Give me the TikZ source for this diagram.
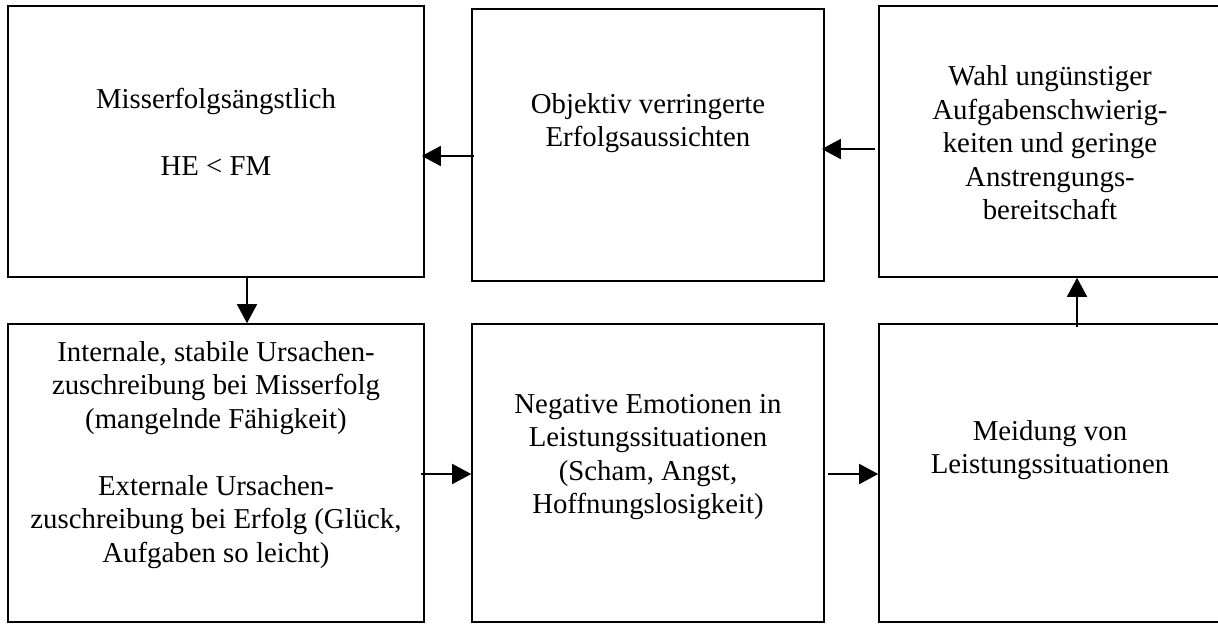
\documentclass[tikz,border=0pt]{standalone}
\usepackage{fontspec}
\setmainfont{Liberation Serif}
\usetikzlibrary{arrows.meta}
\begin{document}
\begin{tikzpicture}[x=1pt,y=-1pt,
  box/.style={draw=black,line width=1.6pt,rectangle,inner sep=0pt},
  txt/.style={align=center,inner sep=0pt,font=\fontsize{28.8}{33.5}\selectfont},
  arr/.style={line width=1.6pt,-{Triangle[length=19pt,width=20pt]}}]
\fill[white] (0,0) rectangle (1218,624);
\useasboundingbox (0,0) rectangle (1218,624);
% boxes
\node[box,minimum width=416pt,minimum height=271pt] (tl) at (216,141.5) {};
\node[box,minimum width=352pt,minimum height=272pt] (tm) at (648,145) {};
\node[box,minimum width=343pt,minimum height=271pt] (tr) at (1050.5,141.5) {};
\node[box,minimum width=416pt,minimum height=298pt] (bl) at (216,473) {};
\node[box,minimum width=352pt,minimum height=298pt] (bm) at (648,473) {};
\node[box,minimum width=343pt,minimum height=298pt] (br) at (1050.5,473) {};
% texts
\node[txt] (ttl) at (216,132) {Misserfolgsängstlich\\[33.5pt]HE < FM};
\node[txt] (ttm) at (648,123) {Objektiv verringerte\\Erfolgsaussichten};
\node[txt] (ttr) at (1050,143) {Wahl ungünstiger\\Aufgabenschwierig-\\keiten und geringe\\Anstrengungs-\\bereitschaft};
\node[txt] (tbl) at (216,455) {Internale, stabile Ursachen-\\zuschreibung bei Misserfolg\\(mangelnde Fähigkeit)\\[33.5pt]Externale Ursachen-\\zuschreibung bei Erfolg (Glück,\\Aufgaben so leicht)};
\node[txt] (tbm) at (648,457) {Negative Emotionen in\\Leistungssituationen\\(Scham, Angst,\\Hoffnungslosigkeit)};
\node[txt] (tbr) at (1050,450) {Meidung von\\Leistungssituationen};
% arrow levels
\coordinate (ya) at (0,156);
\coordinate (yb) at (0,149);
\coordinate (yc) at (0,474);
\coordinate (xd) at (247,0);
\coordinate (xe) at (1077,0);
% arrows
\draw[arr] ([xshift=3pt]tm.west |- ya) -- ([xshift=-3pt]tl.east |- ya);
\draw[arr] ([xshift=-3pt]tr.west |- yb) -- ([xshift=-3pt]tm.east |- yb);
\draw[arr] (xd |- tl.south) -- (xd |- bl.north);
\draw[arr] ([yshift=-4pt]xe |- br.north) -- (xe |- tr.south);
\draw[arr] ([xshift=-4pt]bl.east |- yc) -- (bm.west |- yc);
\draw[arr] ([xshift=3pt]bm.east |- yc) -- (br.west |- yc);
\end{tikzpicture}
\end{document}
